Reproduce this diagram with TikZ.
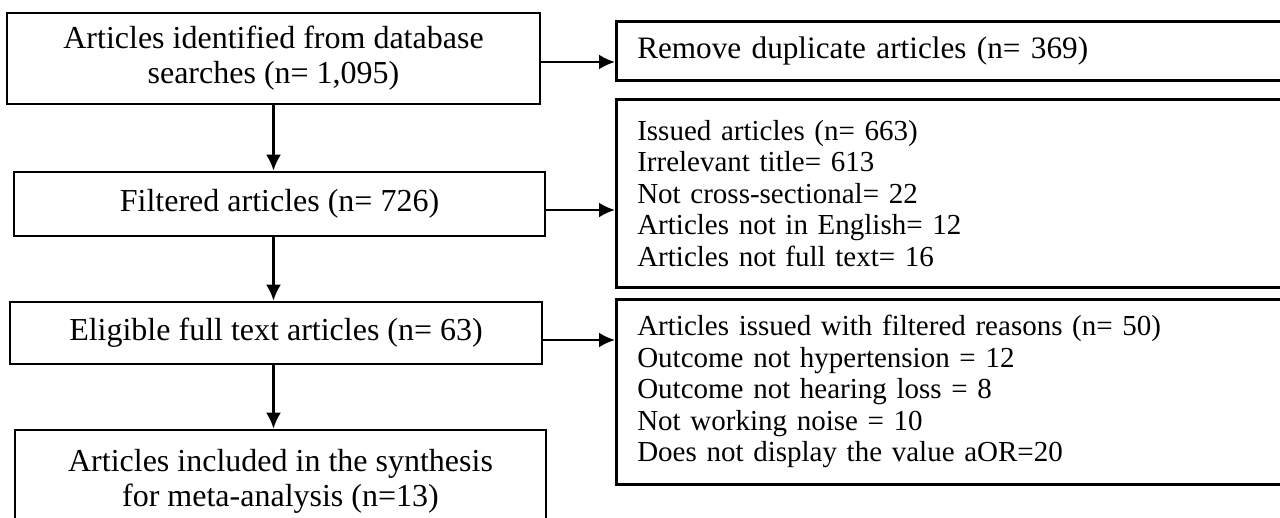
\documentclass[tikz,border=0pt]{standalone}
\usepackage{fontspec}
\setmainfont{Liberation Serif}
\usetikzlibrary{arrows.meta}
\begin{document}
\begin{tikzpicture}[x=0.5pt,y=-0.5pt]
    \tikzset{
        mainbox/.style={draw, line width=1.3pt, align=center, font=\fontsize{16}{17.5}\selectfont},
        sidebox/.style={draw, line width=1.3pt, anchor=north west, align=left, text width=330pt, inner xsep=10.5pt, font=\fontsize{14.5}{15.75}\selectfont},
        arr/.style={line width=1.3pt, -{Latex[length=8pt,width=7.5pt]}}
    }
    \useasboundingbox (0,0) rectangle (1280,518);
    \node[mainbox, minimum width=266.5pt, minimum height=45.5pt] (found) at (273.5,58.5) {Articles identified from database\\searches (n= 1,095)};
    \node[mainbox, minimum width=265.5pt, minimum height=32pt] (filt) at (279.5,204) {Filtered articles (n= 726)};
    \node[mainbox, minimum width=266pt, minimum height=31pt] (elig) at (276,333) {Eligible full text articles (n= 63)};
    \node[mainbox, minimum width=265.5pt, minimum height=51pt] (incl) at (280.5,481) {Articles included in the synthesis\\for meta-analysis (n=13)};
    \node[sidebox, minimum height=29.5pt, font=\fontsize{15.6}{17.5}\selectfont] (dup) at (615,20) {Remove duplicate articles (n= 369)};
    \node[sidebox, minimum height=94pt] (issued) at (615,98) {Issued articles (n= 663)\\Irrelevant title= 613\\Not cross-sectional= 22\\Articles not in English= 12\\Articles not full text= 16};
    \node[sidebox, minimum height=92.5pt] (reasons) at (615,298) {Articles issued with filtered reasons (n= 50)\\Outcome not hypertension = 12\\Outcome not hearing loss = 8\\Not working noise = 10\\Does not display the value aOR=20};
    \draw[arr] ([yshift=-1.75pt]found.east) -- ([yshift=-1.75pt]found.east -| dup.west);
    \draw[arr] (found.south) -- (found.south |- filt.north);
    \draw[arr] ([yshift=-3pt]filt.east) -- ([yshift=-3pt]filt.east -| issued.west);
    \draw[arr] (filt.south -| found.south) -- (elig.north -| found.south);
    \draw[arr] ([yshift=-3.5pt]elig.east) -- ([yshift=-3.5pt]elig.east -| reasons.west);
    \draw[arr] (elig.south -| found.south) -- (incl.north -| found.south);
\end{tikzpicture}
\end{document}
